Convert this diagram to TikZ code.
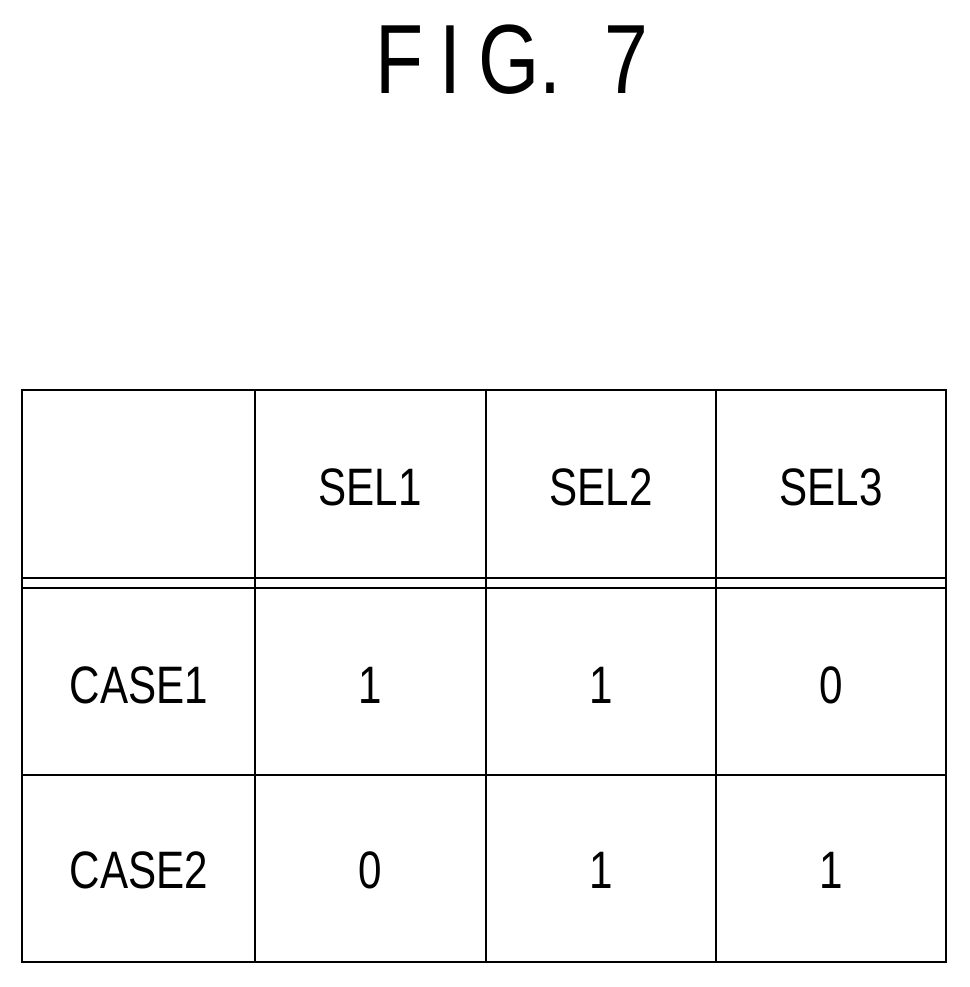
\documentclass[tikz,border=0pt]{standalone}
\usepackage{fontspec}
\setmainfont[FakeStretch=0.8]{Liberation Sans}
\begin{document}
\begin{tikzpicture}[x=0.02cm,y=-0.02cm,
    cell/.style={font=\fontsize{30}{32}\selectfont},
    title/.style={font=\fontsize{56}{60}\selectfont},
    grid/.style={line width=1.6pt}
]
\useasboundingbox (0,0) rectangle (970,987);

% Title
\node[title] (fig) at (512,60) {F\,I\,G.\ \ 7};

% Table lines
\draw[grid] (22,390) rectangle (946,962);
\foreach \x in {255,486,716} \draw[grid] (\x,390) -- (\x,962);
\draw[grid] (22,578) -- (946,578);
\draw[grid] (22,588) -- (946,588);
\draw[grid] (22,775) -- (946,775);

% Header row
\node[cell] (sel1) at (370,487) {SEL1};
\node[cell] (sel2) at (601,487) {SEL2};
\node[cell] (sel3) at (831,487) {SEL3};

% Rows
\node[cell] (case1) at (139,685) {CASE1};
\node[cell] (c11) at (370,685) {1};
\node[cell] (c12) at (601,685) {1};
\node[cell] (c13) at (831,685) {0};

\node[cell] (case2) at (139,870) {CASE2};
\node[cell] (c21) at (370,870) {0};
\node[cell] (c22) at (601,870) {1};
\node[cell] (c23) at (831,870) {1};

\end{tikzpicture}
\end{document}
